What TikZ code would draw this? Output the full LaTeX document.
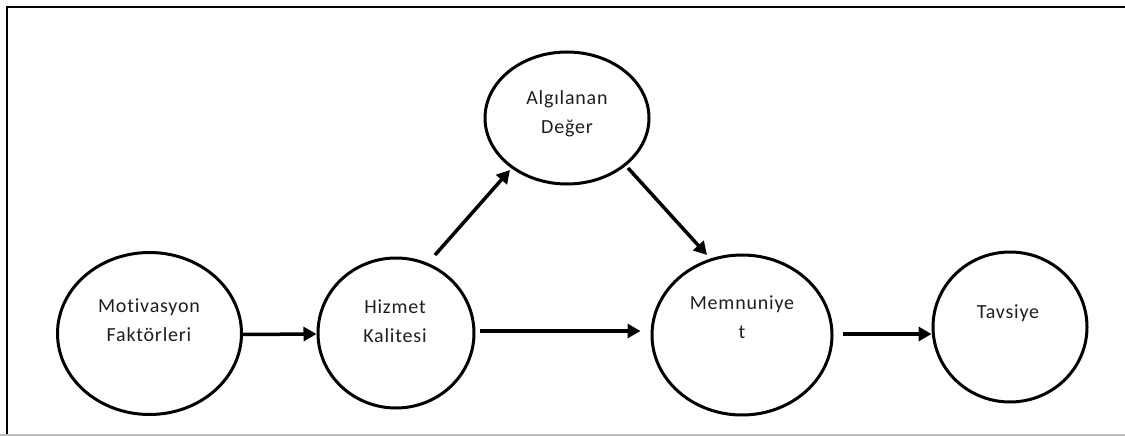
\documentclass[tikz,border=0pt]{standalone}
\usepackage{fontspec}
\setmainfont{Carlito}[LetterSpace=4,Ligatures={NoCommon}]
\usetikzlibrary{shapes.geometric,arrows.meta,calc}
\definecolor{txt}{RGB}{30,30,30}
\definecolor{bottomline}{RGB}{190,190,190}
\begin{document}
\begin{tikzpicture}[x=1pt,y=-1pt,
  circ/.style={draw=black,line width=3pt,ellipse,inner sep=0pt},
  lbl/.style={text=txt,font=\fontsize{20}{29}\selectfont,align=center,inner sep=0pt},
  arr/.style={draw=black,line width=3.5pt,-{Triangle[length=13pt,width=14pt]}}]
\useasboundingbox (0,0) rectangle (1125,436);
\draw[line width=2pt] (7,436) -- (7,7) -- (1125,7);
\draw[bottomline,line width=1.5pt] (0,435) -- (1125,435);
% nodes
\node[circ,minimum width=184pt,minimum height=162pt] (mo) at (149.5,333.5) {};
\node[circ,minimum width=156pt,minimum height=150pt] (h) at (396,333) {};
\node[circ,minimum width=164pt,minimum height=132pt] (a) at (567,118) {};
\node[circ,minimum width=180pt,minimum height=160pt] (m) at (742,335) {};
\node[circ,minimum width=154pt,minimum height=150pt] (t) at (1010,327) {};
% labels
\node[lbl] (mol) at (149,320) {Motivasyon\\Faktörleri};
\node[lbl] (hl) at (395,321) {Hizmet\\Kalitesi};
\node[lbl] (al) at (567,114) {Algılanan\\Değer};
\node[lbl] (ml) at (742,317) {Memnuniye\\t};
\node[lbl] (tl) at (1008,313) {Tavsiye};
% connectors
\draw[arr] ($(mo.east)+(0,1)$) -- ($(h.west)+(0,1)$);
\draw[arr] ($(h.east)+(4,-2)$) -- ($(m.west)+(-10,-4)$);
\draw[arr] ($(m.east)+(9,-1)$) -- ($(t.west)+(0,7)$);
\draw[arr] ($(h.center)+(39,-78)$) -- ($(a.center)+(-57,52)$);
\draw[arr] ($(a.center)+(61,50)$) -- ($(m.center)+(-35,-80)$);
\end{tikzpicture}
\end{document}
